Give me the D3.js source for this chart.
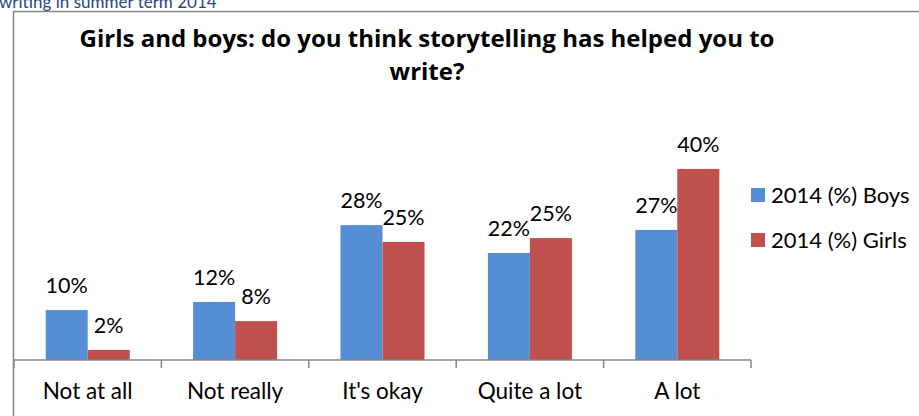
<!DOCTYPE html>
<html>
<head>
<meta charset="utf-8">
<script src="https://cdn.jsdelivr.net/npm/d3@7"></script>
<style>
  body { margin: 0; background: #fff; }
  svg { display: block; font-family: Lato, "Open Sans", sans-serif; }
</style>
</head>
<body>
<svg width="919" height="416"></svg>
<script>
var categories = ["Not at all", "Not really", "It's okay", "Quite a lot", "A lot"];
var seriesNames = ["2014 (%) Boys", "2014 (%) Girls"];
var boys = [10.4, 12.1, 28.1, 22.3, 27.1];
var girls = [2.1, 8.1, 24.6, 25.4, 39.8];
var colors = ["#558ed5", "#c0504d"];

var svg = d3.select("svg");

// cut-off heading from the page above the chart
svg.append("text")
  .attr("x", -1)
  .attr("y", 8)
  .attr("fill", "#1f497d")
  .style("font-size", "17px")
  .text("writing in summer term 2014");

// chart frame
svg.append("path")
  .attr("d", "M13.5,417V11.5H920")
  .attr("fill", "none")
  .attr("stroke", "#868686")
  .attr("stroke-width", 1.5);

var title = ["Girls and boys: do you think storytelling has helped you to", "write?"];
svg.append("g")
  .selectAll("text")
  .data(title)
  .enter().append("text")
  .attr("x", 427)
  .attr("y", function(d, i) { return 47 + i * 33; })
  .attr("text-anchor", "middle")
  .style("font-family", "'Open Sans', sans-serif")
  .style("font-size", "24px")
  .style("font-weight", "bold")
  .text(function(d) { return d; });

var x0 = d3.scaleBand()
  .domain(categories)
  .range([14, 751])
  .paddingInner(0.43)
  .paddingOuter(0.215);

var x1 = d3.scaleBand()
  .domain([0, 1])
  .range([0, x0.bandwidth()]);

var y = d3.scaleLinear()
  .domain([0, 50])
  .range([360, 120]);

var rows = categories.map(function(c, i) {
  return { cat: c, vals: [boys[i], girls[i]] };
});

var groups = svg.append("g")
  .selectAll("g")
  .data(rows)
  .enter().append("g")
  .attr("transform", function(d) { return "translate(" + x0(d.cat) + ",0)"; });

groups.selectAll("rect")
  .data(function(d) { return d.vals; })
  .enter().append("rect")
  .attr("x", function(d, i) { return x1(i); })
  .attr("y", function(d) { return y(d); })
  .attr("width", x1.bandwidth())
  .attr("height", function(d) { return y(0) - y(d); })
  .attr("fill", function(d, i) { return colors[i]; });

groups.selectAll("text")
  .data(function(d) { return d.vals; })
  .enter().append("text")
  .attr("x", function(d, i) { return x1(i) + x1.bandwidth() / 2; })
  .attr("y", function(d) { return y(d) - 17; })
  .attr("text-anchor", "middle")
  .style("font-size", "21.5px")
  .text(function(d) { return Math.round(d) + "%"; });

// category axis
var step = x0.step();
var bounds = d3.range(categories.length + 1).map(function(i) { return x0.range()[0] + i * step; });
var axis = svg.append("g").attr("stroke", "#868686").attr("stroke-width", 1.5);
axis.append("line")
  .attr("x1", x0.range()[0]).attr("x2", x0.range()[1])
  .attr("y1", y(0)).attr("y2", y(0));
axis.selectAll(".tick")
  .data(bounds)
  .enter().append("line")
  .attr("x1", function(d) { return d; }).attr("x2", function(d) { return d; })
  .attr("y1", y(0)).attr("y2", y(0) + 8);

svg.append("g")
  .selectAll("text")
  .data(categories)
  .enter().append("text")
  .attr("x", function(d) { return x0(d) + x0.bandwidth() / 2; })
  .attr("y", 399)
  .attr("text-anchor", "middle")
  .style("font-size", "22.5px")
  .text(function(d) { return d; });

// legend
var legend = svg.append("g")
  .selectAll("g")
  .data(seriesNames)
  .enter().append("g")
  .attr("transform", function(d, i) { return "translate(751," + (188 + i * 45) + ")"; });
legend.append("rect")
  .attr("width", 14).attr("height", 14)
  .attr("fill", function(d, i) { return colors[i]; });
legend.append("text")
  .attr("x", 20)
  .attr("y", 15)
  .style("font-size", "22px")
  .text(function(d) { return d; });
</script>
</body>
</html>
